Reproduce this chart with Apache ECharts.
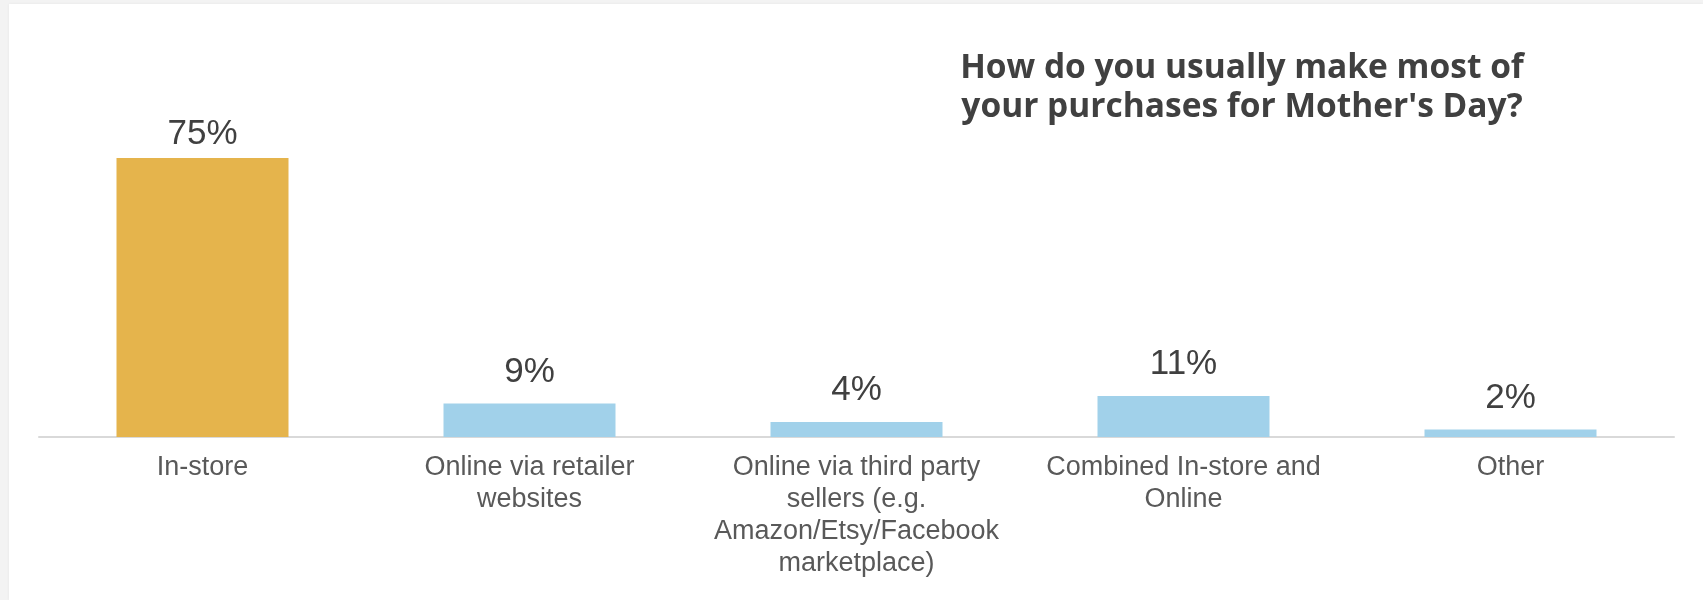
<!DOCTYPE html>
<html>
<head>
<meta charset="utf-8">
<title>Mother's Day purchases</title>
<script src="https://cdn.jsdelivr.net/npm/echarts@6/dist/echarts.min.js"></script>
<style>
  html, body { margin: 0; padding: 0; width: 1703px; height: 600px; overflow: hidden; background: #f3f3f3; }
  #panel { position: absolute; left: 9px; top: 4px; right: 0; bottom: 0; background: #ffffff; box-shadow: 0 0 3px rgba(0,0,0,0.06); }
  #chart { position: absolute; left: 0; top: 0; width: 1703px; height: 600px; }
</style>
</head>
<body>
<div id="panel"></div>
<div id="chart"></div>
<script>
// Survey answers: how purchases for Mother's Day are usually made
const categories = [
  'In-store',
  'Online via retailer\nwebsites',
  'Online via third party\nsellers (e.g.\nAmazon/Etsy/Facebook\nmarketplace)',
  'Combined In-store and\nOnline',
  'Other'
];
const shares = [75, 9, 4, 11, 2];          // percent of respondents
const highlightIndex = 0;                   // the leading answer gets the accent colour
const titleLines = ['How do you usually make most of', "your purchases for Mother's Day?"];

const GOLD = '#E5B44C';
const BLUE = '#A1D1EA';
const TEXT_DARK = '#404040';
const TEXT_AXIS = '#595959';
const SANS = '"Liberation Sans", Arial, sans-serif';

const barData = shares.map((v, i) => ({
  value: v,
  itemStyle: { color: i === highlightIndex ? GOLD : BLUE },
  label: { distance: i === highlightIndex ? 6 : 14 }
}));

const chart = echarts.init(document.getElementById('chart'), null, { renderer: 'canvas' });

chart.setOption({
  backgroundColor: 'transparent',
  animation: false,
  grid: { left: 39, right: 29, top: 65, bottom: 163, containLabel: false },
  xAxis: {
    type: 'category',
    data: categories,
    axisLine: { show: true, lineStyle: { color: '#d9d9d9', width: 2 } },
    axisTick: { show: false },
    axisLabel: {
      interval: 0,
      margin: 15,
      color: TEXT_AXIS,
      fontFamily: SANS,
      fontSize: 27,
      lineHeight: 32,
      align: 'center'
    }
  },
  yAxis: {
    type: 'value',
    min: 0,
    max: 100,
    show: false,
    splitLine: { show: false }
  },
  series: [{
    type: 'bar',
    data: barData,
    barWidth: 172,
    label: {
      show: true,
      position: 'top',
      formatter: '{c}%',
      color: TEXT_DARK,
      fontFamily: SANS,
      fontSize: 35
    }
  }],
  graphic: [{
    type: 'text',
    x: 1242,
    y: 49,
    style: {
      text: titleLines.join('\n'),
      fill: TEXT_DARK,
      font: 'bold 33.5px "Open Sans", sans-serif',
      lineHeight: 39,
      align: 'center',
      verticalAlign: 'top'
    }
  }]
});
</script>
</body>
</html>
